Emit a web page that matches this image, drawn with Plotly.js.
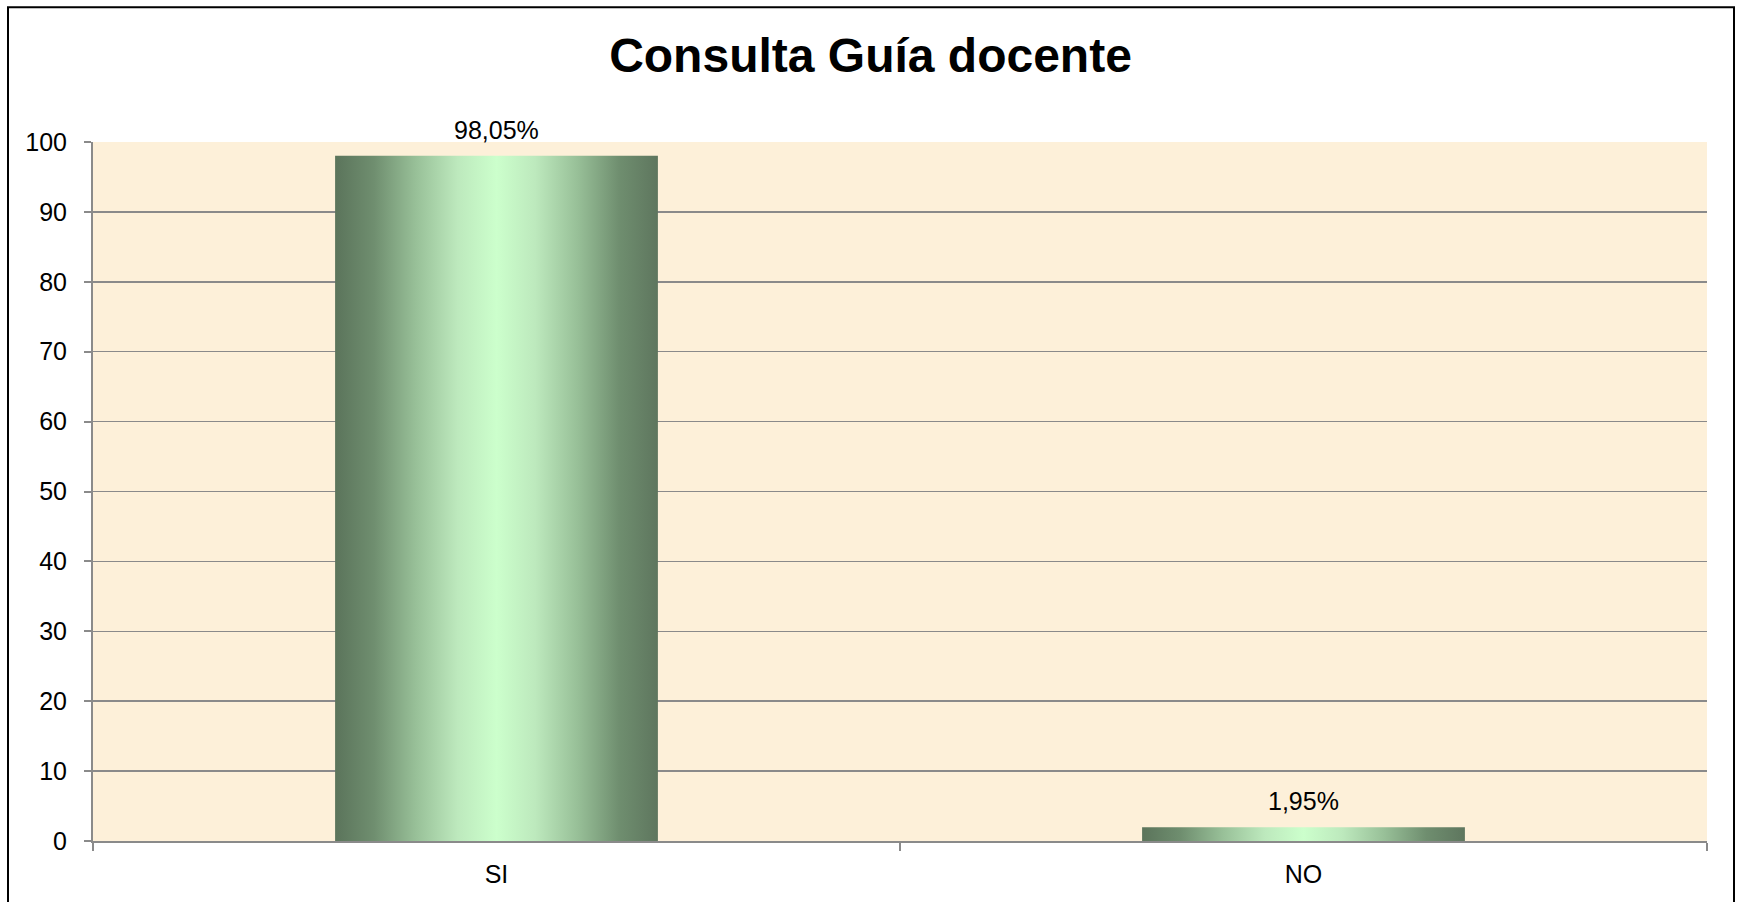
<!DOCTYPE html>
<html>
<head>
<meta charset="utf-8">
<script src="https://cdn.plot.ly/plotly-3.0.1.min.js"></script>
<style>
  html, body { margin: 0; padding: 0; background: #ffffff; overflow: hidden; }
  #chart { width: 1741px; height: 902px; }
</style>
</head>
<body>
<div id="chart"></div>
<script>
// ---- data ----
const chartTitle = 'Consulta Guía docente';
const categories = ['SI', 'NO'];
const values = [98.05, 1.95];
const yTickValues = [0, 10, 20, 30, 40, 50, 60, 70, 80, 90, 100];
const yTickLabels = ['0', '10', '20', '30', '40', '50', '60', '70', '80', '90', '100'];

// ---- helpers ----
const fmt = v => v.toFixed(2).replace('.', ',') + '%';
const FONT = '"Liberation Sans", Arial, sans-serif';
const GRAY = '#8a8a8a';

const trace = {
  type: 'bar',
  x: categories,
  y: values,
  marker: { color: '#9cc49c', line: { width: 0 } },
  hoverinfo: 'skip'
};

const annotations = categories.map((c, i) => ({
  x: c, y: values[i], xref: 'x', yref: 'y',
  text: fmt(values[i]),
  showarrow: false,
  yanchor: 'bottom',
  yshift: 10,
  font: { family: FONT, size: 25, color: '#000000' }
}));

const layout = {
  width: 1741,
  height: 902,
  margin: { l: 93, r: 34, t: 142, b: 61 },
  paper_bgcolor: '#ffffff',
  plot_bgcolor: '#fdf0d9',
  showlegend: false,
  bargap: 0.6,
  title: {
    text: '<b>' + chartTitle + '</b>',
    font: { family: FONT, size: 48, color: '#000000' },
    x: 0.5, xref: 'container', xanchor: 'center',
    y: 1 - 55 / 902, yref: 'container', yanchor: 'middle'
  },
  xaxis: {
    type: 'category',
    showgrid: false,
    showline: true, linecolor: GRAY, linewidth: 2,
    ticks: 'outside', ticklen: 8, tickcolor: GRAY, tickwidth: 2,
    tickson: 'boundaries',
    ticklabelstandoff: 10,
    tickfont: { family: FONT, size: 25, color: '#000000' },
    fixedrange: true
  },
  yaxis: {
    range: [0, 100],
    tickmode: 'array',
    tickvals: yTickValues,
    ticktext: yTickLabels,
    showgrid: true, gridcolor: GRAY, gridwidth: 1.5,
    zeroline: false,
    showline: true, linecolor: GRAY, linewidth: 2,
    ticks: 'outside', ticklen: 7, tickcolor: GRAY, tickwidth: 2,
    ticklabelstandoff: 12,
    tickfont: { family: FONT, size: 25, color: '#000000' },
    fixedrange: true
  },
  annotations: annotations,
  shapes: [{
    type: 'rect', xref: 'paper', yref: 'paper',
    x0: (8 - 93) / 1614, x1: (1734 - 93) / 1614,
    y0: -0.2, y1: 1 + (141.7 - 7) / 699,
    line: { color: '#000000', width: 2 },
    fillcolor: 'rgba(0,0,0,0)',
    layer: 'above'
  }]
};

function applyGradient(gd) {
  const svg = gd.querySelector('svg.main-svg');
  if (!svg) return;
  const ns = 'http://www.w3.org/2000/svg';
  let defs = svg.querySelector('defs#barGradDefs');
  if (!defs) {
    defs = document.createElementNS(ns, 'defs');
    defs.setAttribute('id', 'barGradDefs');
    const lg = document.createElementNS(ns, 'linearGradient');
    lg.setAttribute('id', 'barGrad');
    lg.setAttribute('x1', '0'); lg.setAttribute('y1', '0');
    lg.setAttribute('x2', '1'); lg.setAttribute('y2', '0');
    const stops = [
      [0, '#5b745b'], [0.12, '#6f8e6f'], [0.25, '#98c098'], [0.38, '#bde9bd'],
      [0.5, '#ccffcc'], [0.62, '#bde9bd'], [0.75, '#98c098'], [0.88, '#6f8e6f'], [1, '#5e765e']
    ];
    stops.forEach(([o, c]) => {
      const s = document.createElementNS(ns, 'stop');
      s.setAttribute('offset', o);
      s.setAttribute('stop-color', c);
      lg.appendChild(s);
    });
    defs.appendChild(lg);
    svg.insertBefore(defs, svg.firstChild);
  }
  gd.querySelectorAll('g.trace.bars path').forEach(p => {
    p.style.fill = 'url(#barGrad)';
  });
}

Plotly.newPlot('chart', [trace], layout, { displayModeBar: false, staticPlot: true })
  .then(gd => applyGradient(gd));
</script>
</body>
</html>
